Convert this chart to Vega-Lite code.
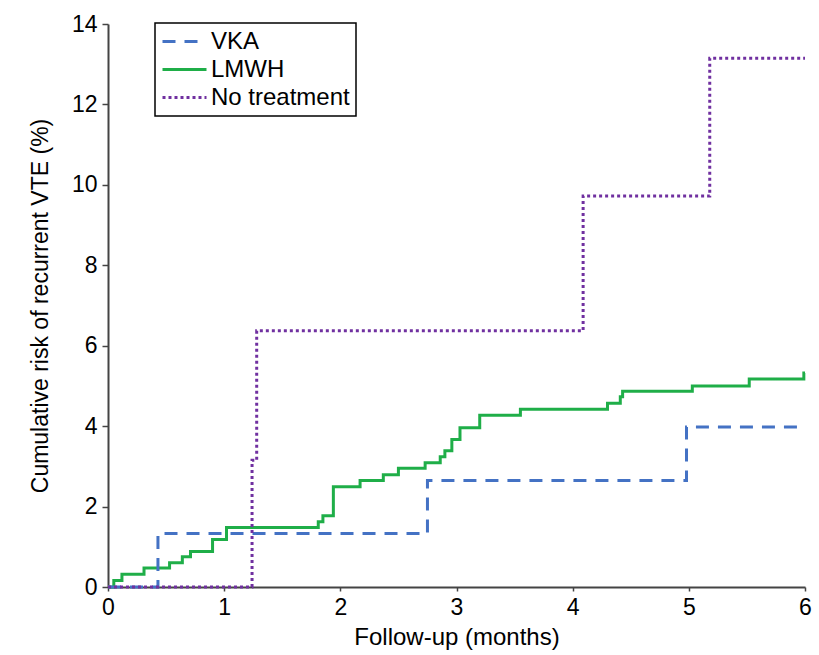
{
  "$schema": "https://vega.github.io/schema/vega-lite/v6.json",
  "width": 697,
  "height": 563,
  "autosize": {"type": "none"},
  "padding": {"left": 108, "top": 24, "right": 14, "bottom": 68},
  "background": "white",
  "config": {
    "font": "Liberation Sans",
    "view": {"stroke": null},
    "axis": {"grid": false, "domainColor": "#444", "domainWidth": 2, "tickColor": "#444", "tickWidth": 1.5, "labelColor": "black", "titleColor": "black", "labelFont": "Liberation Sans", "titleFont": "Liberation Sans", "titleFontWeight": "normal"}
  },
  "data": {
    "values": [
      {"group": "LMWH", "t": 0, "risk": 0},
      {"group": "LMWH", "t": 0.05, "risk": 0.16},
      {"group": "LMWH", "t": 0.12, "risk": 0.32},
      {"group": "LMWH", "t": 0.31, "risk": 0.47},
      {"group": "LMWH", "t": 0.53, "risk": 0.6},
      {"group": "LMWH", "t": 0.64, "risk": 0.75},
      {"group": "LMWH", "t": 0.71, "risk": 0.88},
      {"group": "LMWH", "t": 0.9, "risk": 1.18},
      {"group": "LMWH", "t": 1.02, "risk": 1.48},
      {"group": "LMWH", "t": 1.81, "risk": 1.62},
      {"group": "LMWH", "t": 1.85, "risk": 1.77},
      {"group": "LMWH", "t": 1.94, "risk": 2.49},
      {"group": "LMWH", "t": 2.17, "risk": 2.65},
      {"group": "LMWH", "t": 2.37, "risk": 2.79},
      {"group": "LMWH", "t": 2.5, "risk": 2.95},
      {"group": "LMWH", "t": 2.73, "risk": 3.09},
      {"group": "LMWH", "t": 2.86, "risk": 3.24},
      {"group": "LMWH", "t": 2.9, "risk": 3.39},
      {"group": "LMWH", "t": 2.96, "risk": 3.67},
      {"group": "LMWH", "t": 3.03, "risk": 3.96},
      {"group": "LMWH", "t": 3.2, "risk": 4.27},
      {"group": "LMWH", "t": 3.55, "risk": 4.42},
      {"group": "LMWH", "t": 4.3, "risk": 4.57},
      {"group": "LMWH", "t": 4.41, "risk": 4.73},
      {"group": "LMWH", "t": 4.43, "risk": 4.87},
      {"group": "LMWH", "t": 5.03, "risk": 5.0},
      {"group": "LMWH", "t": 5.52, "risk": 5.17},
      {"group": "LMWH", "t": 5.99, "risk": 5.32},
      {"group": "LMWH", "t": 6, "risk": 5.32},
      {"group": "VKA", "t": 0, "risk": 0},
      {"group": "VKA", "t": 0.43, "risk": 1.33},
      {"group": "VKA", "t": 2.75, "risk": 2.65},
      {"group": "VKA", "t": 4.98, "risk": 3.98},
      {"group": "VKA", "t": 6, "risk": 3.98},
      {"group": "No treatment", "t": 0, "risk": 0},
      {"group": "No treatment", "t": 1.24, "risk": 3.15},
      {"group": "No treatment", "t": 1.28, "risk": 6.37},
      {"group": "No treatment", "t": 4.09, "risk": 9.72},
      {"group": "No treatment", "t": 5.18, "risk": 13.15},
      {"group": "No treatment", "t": 6, "risk": 13.15}
    ]
  },
  "mark": {"type": "line", "interpolate": "step-after", "strokeWidth": 3, "clip": false},
  "encoding": {
    "x": {
      "field": "t", "type": "quantitative",
      "scale": {"domain": [0, 6], "nice": false, "zero": false},
      "axis": {"title": "Follow-up (months)", "values": [0, 1, 2, 3, 4, 5, 6], "format": "d", "tickSize": 4, "labelFontSize": 23, "labelPadding": 5, "titleFontSize": 24, "titlePadding": 6, "labelFlush": false}
    },
    "y": {
      "field": "risk", "type": "quantitative",
      "scale": {"domain": [0, 14], "nice": false},
      "axis": {"title": "Cumulative risk of recurrent VTE (%)", "values": [0, 2, 4, 6, 8, 10, 12, 14], "tickSize": 6, "labelFontSize": 23, "labelPadding": 5, "titleFontSize": 23, "titlePadding": 19}
    },
    "color": {
      "field": "group", "type": "nominal",
      "scale": {"domain": ["VKA", "LMWH", "No treatment"], "range": ["#4472C4", "#1fae48", "#7030a0"]},
      "legend": {
        "title": null, "orient": "none", "legendX": 47, "legendY": -1,
        "strokeColor": "black", "fillColor": "white", "padding": 6,
        "labelFontSize": 24, "labelFont": "Liberation Sans", "labelColor": "black",
        "symbolType": "M-1,0L3,0", "symbolSize": 484, "symbolStrokeWidth": 3,
        "labelOffset": 25, "rowPadding": 3,
        "encode": {"legend": {"update": {"strokeWidth": {"value": 1.5}}}}
      }
    },
    "strokeDash": {
      "field": "group", "type": "nominal",
      "scale": {"domain": ["VKA", "LMWH", "No treatment"], "range": [[13, 9], [1, 0], [3, 3]]},
      "legend": null
    }
  }
}
